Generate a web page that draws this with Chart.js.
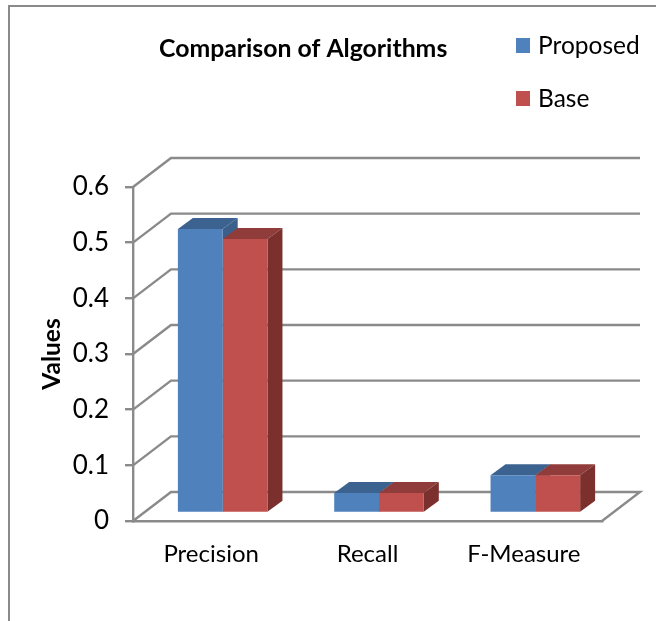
<!DOCTYPE html>
<html>
<head>
<meta charset="utf-8">
<script src="https://cdn.jsdelivr.net/npm/chart.js@4"></script>
<style>
  html, body { margin: 0; padding: 0; background: #fff; overflow: hidden; }
  canvas { display: block; }
</style>
</head>
<body>
<canvas id="chart" width="656" height="621"></canvas>
<script>
const categories = ['Precision', 'Recall', 'F-Measure'];
const seriesNames = ['Proposed', 'Base'];
const proposedValues = [0.51, 0.036, 0.068];
const baseValues = [0.492, 0.036, 0.068];
const chartTitle = 'Comparison of Algorithms';
const yAxisTitle = 'Values';

const FONT = 'Lato, Carlito, sans-serif';
const LINE = '#8a8a8a';
const LINE_W = 2.4;
const FRONT = ['#4f81bd', '#c0504d'];
const TOP = ['#3c6290', '#903c3a'];
const SIDE = ['#3a5f8b', '#7b302e'];

// floor/wall depth, and how far the bars sit inside it
const WALL_DX = 38, WALL_DY = -29;
const BAR_DX = 11.5, BAR_DY = -8;
const DEPTH_DX = 15, DEPTH_DY = -11;

const walls = {
  id: 'walls',
  beforeDraw(chart) {
    const { ctx, chartArea: a, scales: { y } } = chart;
    ctx.save();
    ctx.strokeStyle = LINE;
    ctx.lineWidth = 2;
    // outer frame, cut off by the picture on the right and bottom
    ctx.beginPath();
    ctx.moveTo(9, 621);
    ctx.lineTo(9, 6);
    ctx.lineTo(656, 6);
    ctx.stroke();
    ctx.lineWidth = LINE_W;
    y.ticks.forEach((t) => {
      const py = y.getPixelForValue(t.value);
      ctx.beginPath();
      ctx.moveTo(a.left, py);
      ctx.lineTo(a.left + WALL_DX, py + WALL_DY);
      ctx.lineTo(a.right + WALL_DX, py + WALL_DY);
      if (t.value === 0) {
        ctx.lineTo(a.right, py);
      }
      ctx.stroke();
    });
    ctx.restore();
  }
};

const bars3d = {
  id: 'bars3d',
  beforeDatasetsDraw(chart) {
    const { ctx } = chart;
    ctx.save();
    ctx.translate(BAR_DX, BAR_DY);
    chart.data.datasets.forEach((ds, i) => {
      chart.getDatasetMeta(i).data.forEach((bar) => {
        const l = bar.x - bar.width / 2;
        const r = bar.x + bar.width / 2;
        ctx.fillStyle = TOP[i];
        ctx.beginPath();
        ctx.moveTo(l, bar.y);
        ctx.lineTo(l + DEPTH_DX, bar.y + DEPTH_DY);
        ctx.lineTo(r + DEPTH_DX, bar.y + DEPTH_DY);
        ctx.lineTo(r, bar.y);
        ctx.closePath();
        ctx.fill();
        ctx.fillStyle = SIDE[i];
        ctx.beginPath();
        ctx.moveTo(r, bar.y);
        ctx.lineTo(r + DEPTH_DX, bar.y + DEPTH_DY);
        ctx.lineTo(r + DEPTH_DX, bar.base + DEPTH_DY);
        ctx.lineTo(r, bar.base);
        ctx.closePath();
        ctx.fill();
      });
    });
  },
  afterDatasetsDraw(chart) {
    chart.ctx.restore();
  }
};

const titleAndKey = {
  id: 'titleAndKey',
  afterDraw(chart) {
    const { ctx } = chart;
    ctx.save();
    ctx.textBaseline = 'middle';
    ctx.fillStyle = '#000';
    ctx.font = 'bold 24.8px ' + FONT;
    ctx.fillText(chartTitle, 159, 49);
    ctx.font = '24.5px ' + FONT;
    seriesNames.forEach((name, i) => {
      const cy = 46 + i * 53;
      ctx.fillStyle = FRONT[i];
      ctx.fillRect(516, cy - 8, 14, 15);
      ctx.fillStyle = '#000';
      ctx.fillText(name, 538, cy);
    });
    ctx.restore();
  }
};

new Chart(document.getElementById('chart'), {
  type: 'bar',
  data: {
    labels: categories,
    datasets: [
      { label: seriesNames[0], data: proposedValues, backgroundColor: FRONT[0] },
      { label: seriesNames[1], data: baseValues, backgroundColor: FRONT[1] }
    ]
  },
  options: {
    responsive: false,
    animation: false,
    devicePixelRatio: 1,
    layout: { padding: { top: 187, right: 54, bottom: 0, left: 0 } },
    datasets: { bar: { categoryPercentage: 0.573, barPercentage: 1 } },
    scales: {
      y: {
        min: 0,
        max: 0.6,
        afterFit: (s) => { s.width = 133; },
        ticks: { stepSize: 0.1, color: '#000', padding: 16, font: { family: FONT, size: 26 } },
        grid: { drawOnChartArea: false, color: LINE, lineWidth: LINE_W, tickLength: 8 },
        border: { color: LINE, width: LINE_W },
        title: {
          display: true,
          text: yAxisTitle,
          color: '#000',
          padding: { top: 37, bottom: 0 },
          font: { family: FONT, size: 24.5, weight: 'bold' }
        }
      },
      x: {
        afterFit: (s) => { s.height = 100; },
        ticks: { color: '#000', padding: 19, font: { family: FONT, size: 24 } },
        grid: { drawOnChartArea: false, drawTicks: false, color: LINE, lineWidth: LINE_W },
        border: { color: LINE, width: LINE_W }
      }
    },
    plugins: {
      legend: { display: false },
      title: { display: false },
      tooltip: { enabled: false }
    }
  },
  plugins: [walls, bars3d, titleAndKey]
});
</script>
</body>
</html>
